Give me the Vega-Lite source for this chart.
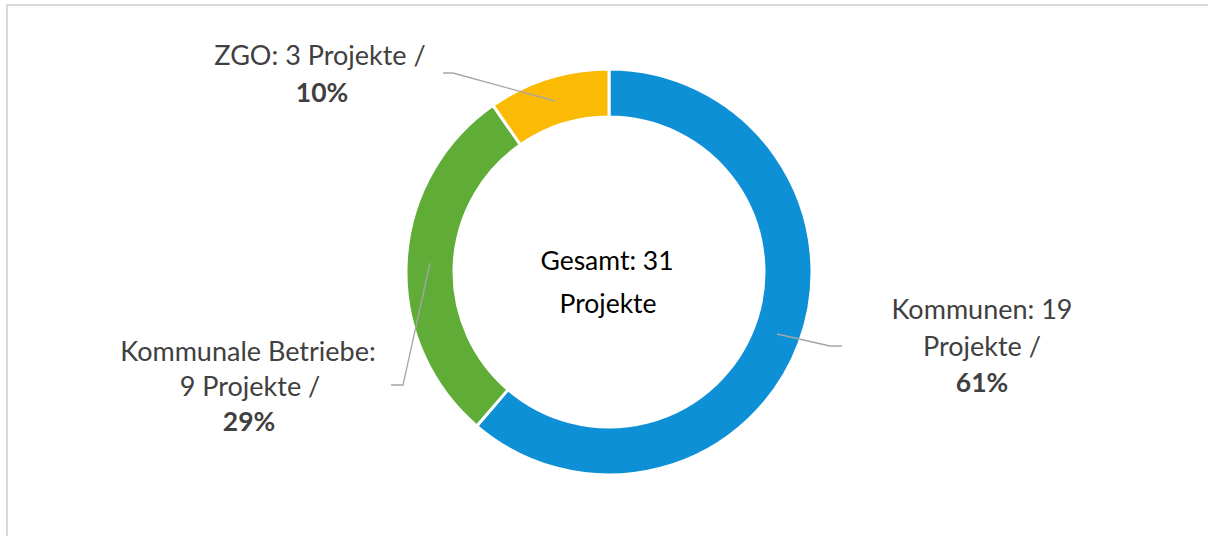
{
  "$schema": "https://vega.github.io/schema/vega-lite/v6.json",
  "width": 1208,
  "height": 538,
  "autosize": "none",
  "padding": {"left": 7, "top": 5, "right": -7, "bottom": -7},
  "background": "white",
  "view": {"stroke": "#d9d9d9", "strokeWidth": 2},
  "config": {"font": "Lato"},
  "datasets": {
    "slices": [
      {"kategorie": "Kommunen", "projekte": 19, "ord": 1},
      {"kategorie": "Kommunale Betriebe", "projekte": 9, "ord": 2},
      {"kategorie": "ZGO", "projekte": 3, "ord": 3}
    ],
    "leaders": [
      {"kategorie": "ZGO", "step": 1, "lx": -1.66, "ly": 1.99},
      {"kategorie": "ZGO", "step": 2, "lx": -1.56, "ly": 1.99},
      {"kategorie": "ZGO", "step": 3, "lx": -0.54, "ly": 1.71},
      {"kategorie": "Kommunen", "step": 1, "lx": 1.68, "ly": -0.62},
      {"kategorie": "Kommunen", "step": 2, "lx": 2.21, "ly": -0.74},
      {"kategorie": "Kommunen", "step": 3, "lx": 2.33, "ly": -0.74},
      {"kategorie": "Kommunale Betriebe", "step": 1, "lx": -1.79, "ly": 0.09},
      {"kategorie": "Kommunale Betriebe", "step": 2, "lx": -2.06, "ly": -1.13},
      {"kategorie": "Kommunale Betriebe", "step": 3, "lx": -2.18, "ly": -1.13}
    ],
    "labels": [
      {"text": "ZGO: 3 Projekte /", "tx": -2.89, "ty": 2.15, "bold": false, "center": false},
      {"text": "10%", "tx": -2.87, "ty": 1.78, "bold": true, "center": false},
      {"text": "Kommunen: 19", "tx": 3.73, "ty": -0.39, "bold": false, "center": false},
      {"text": "Projekte /", "tx": 3.73, "ty": -0.76, "bold": false, "center": false},
      {"text": "61%", "tx": 3.73, "ty": -1.12, "bold": true, "center": false},
      {"text": "Kommunale Betriebe:", "tx": -3.61, "ty": -0.81, "bold": false, "center": false},
      {"text": "9 Projekte /", "tx": -3.59, "ty": -1.16, "bold": false, "center": false},
      {"text": "29%", "tx": -3.60, "ty": -1.51, "bold": true, "center": false},
      {"text": "Gesamt: 31", "tx": -0.02, "ty": 0.10, "bold": false, "center": true},
      {"text": "Projekte", "tx": -0.01, "ty": -0.33, "bold": false, "center": true}
    ]
  },
  "layer": [
    {
      "data": {"name": "slices"},
      "mark": {"type": "arc", "outerRadius": 203, "innerRadius": 155, "stroke": "white", "strokeWidth": 3},
      "encoding": {
        "x": {"datum": 0, "type": "quantitative", "scale": {"domain": [-6.02, 6.06], "nice": false, "zero": false}, "axis": null},
        "y": {"datum": 0, "type": "quantitative", "scale": {"domain": [-2.71, 2.67], "nice": false, "zero": false}, "axis": null},
        "theta": {"field": "projekte", "type": "quantitative", "stack": true},
        "order": {"field": "ord", "type": "quantitative"},
        "color": {
          "field": "kategorie", "type": "nominal", "legend": null,
          "scale": {"domain": ["Kommunen", "Kommunale Betriebe", "ZGO"], "range": ["#0e90d6", "#5fad37", "#fbbb05"]}
        }
      }
    },
    {
      "data": {"name": "leaders"},
      "mark": {"type": "line", "color": "#a6a6a6", "strokeWidth": 1.3},
      "encoding": {
        "x": {"field": "lx", "type": "quantitative"},
        "y": {"field": "ly", "type": "quantitative"},
        "detail": {"field": "kategorie"},
        "order": {"field": "step", "type": "quantitative"}
      }
    },
    {
      "data": {"name": "labels"},
      "transform": [{"filter": "!datum.center && !datum.bold"}],
      "mark": {"type": "text", "fontSize": 27, "color": "#404040", "align": "center", "baseline": "middle"},
      "encoding": {
        "x": {"field": "tx", "type": "quantitative"},
        "y": {"field": "ty", "type": "quantitative"},
        "text": {"field": "text"}
      }
    },
    {
      "data": {"name": "labels"},
      "transform": [{"filter": "datum.bold"}],
      "mark": {"type": "text", "fontSize": 26.5, "fontWeight": "bold", "color": "#404040", "align": "center", "baseline": "middle"},
      "encoding": {
        "x": {"field": "tx", "type": "quantitative"},
        "y": {"field": "ty", "type": "quantitative"},
        "text": {"field": "text"}
      }
    },
    {
      "data": {"name": "labels"},
      "transform": [{"filter": "datum.center"}],
      "mark": {"type": "text", "fontSize": 26.5, "color": "#000000", "align": "center", "baseline": "middle"},
      "encoding": {
        "x": {"field": "tx", "type": "quantitative"},
        "y": {"field": "ty", "type": "quantitative"},
        "text": {"field": "text"}
      }
    }
  ]
}
